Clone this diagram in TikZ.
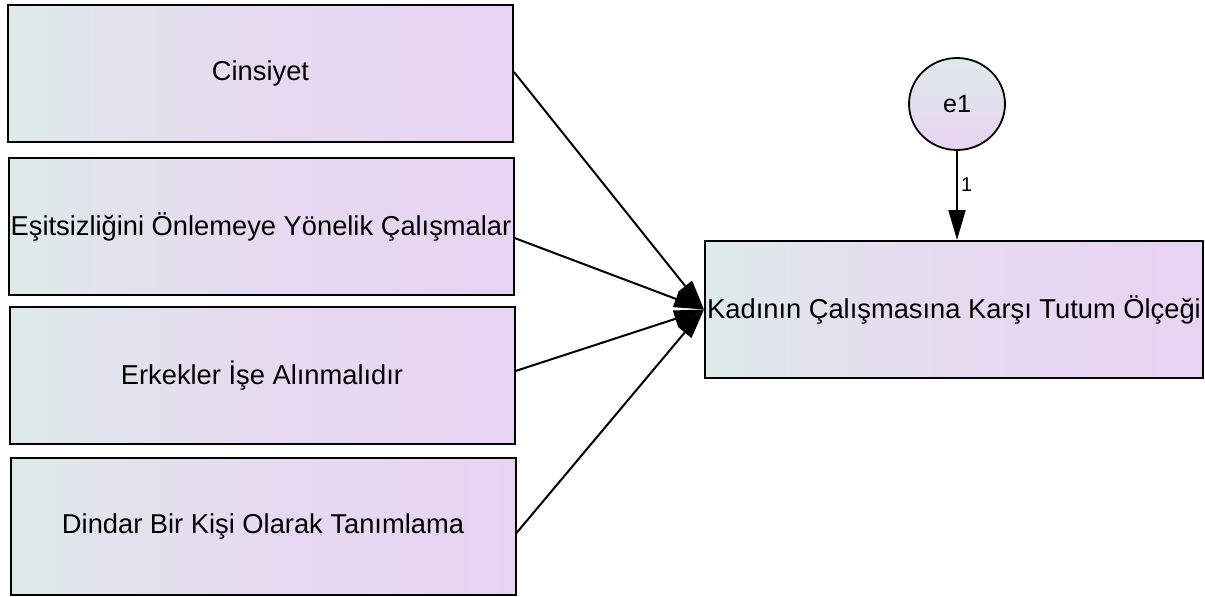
\documentclass[tikz,border=0pt]{standalone}
\usepackage{fontspec}
\setmainfont{Liberation Sans}
\usetikzlibrary{arrows.meta,shapes.geometric}

\definecolor{boxleft}{RGB}{222,234,234}
\definecolor{boxright}{RGB}{233,211,243}

\begin{document}
\begin{tikzpicture}[x=1pt,y=-1pt,
    obsbox/.style={draw=black, line width=2pt, left color=boxleft, right color=boxright,
        middle color=boxright!70!boxleft,
        minimum width=505pt, minimum height=137pt, inner sep=0pt,
        font=\fontsize{27.3}{30}\selectfont},
    errnode/.style={ellipse, draw=black, line width=1.8pt, shading angle=45,
        top color=boxleft, bottom color=boxright, minimum width=96pt, minimum height=92pt,
        inner sep=0pt, font=\fontsize{25}{28}\selectfont},
    regpath/.style={line width=2pt, -{Triangle[length=30pt, width=17pt]}}]
    % Page frame
    \useasboundingbox (0,0) rectangle (1205,597);

    % Predictor boxes (left column)
    \node[obsbox] (cins) at (260.5,73.5) {Cinsiyet};
    \node[obsbox] (esit) at (261,226.5) {Eşitsizliğini Önlemeye Yönelik Çalışmalar};
    \node[obsbox] (erk)  at (262,375.5) {Erkekler İşe Alınmalıdır};
    \node[obsbox] (dind) at (263,526.5) {Dindar Bir Kişi Olarak Tanımlama};

    % Outcome box and its error term
    \node[obsbox, minimum width=498pt] (kcto) at (954,309.5) {Kadının Çalışmasına Karşı Tutum Ölçeği};
    \node[errnode] (e1) at (957,104) {e1};

    % Regression paths
    \draw[regpath] ([yshift=1.5pt]cins.east) -- (kcto.west);
    \draw[regpath] ([yshift=-11.5pt]esit.east) -- (kcto.west);
    \draw[regpath] ([yshift=4.5pt]erk.east) -- (kcto.west);
    \draw[regpath] ([yshift=-6.5pt]dind.east) -- (kcto.west);

    % Error path with fixed weight
    \draw[regpath] (e1.south) -- node[pos=0.38, right, inner sep=3pt, font=\fontsize{20}{22}\selectfont] {1} (e1.south |- kcto.north);
\end{tikzpicture}
\end{document}
